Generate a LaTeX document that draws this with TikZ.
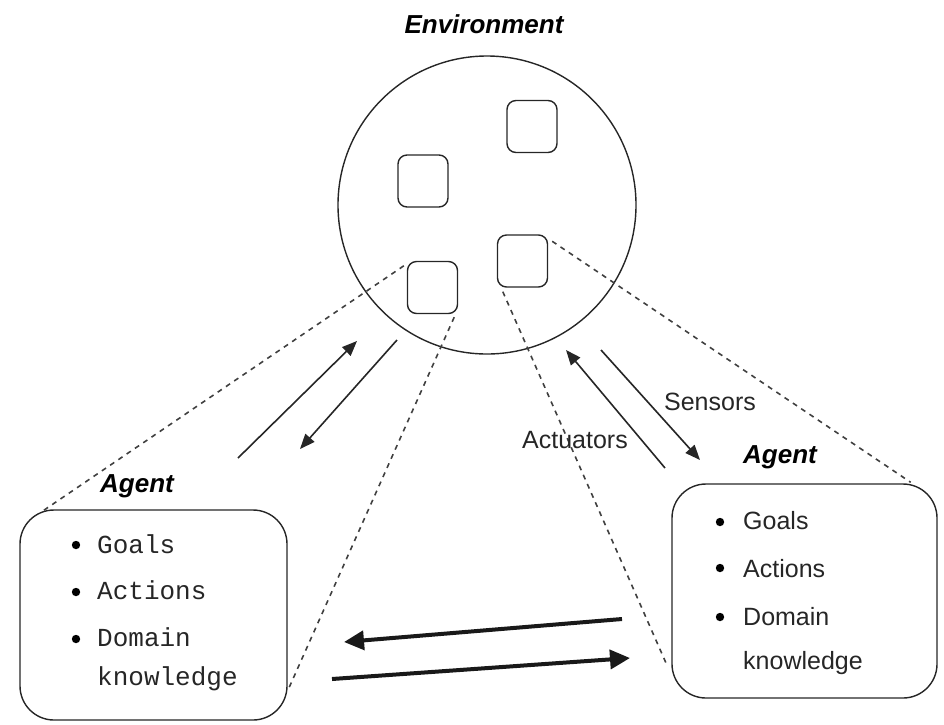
\documentclass[tikz,border=0pt]{standalone}
\usepackage{fontspec}
\setmainfont{Liberation Sans}
\setmonofont{Liberation Mono}
\usetikzlibrary{arrows.meta,calc}
\begin{document}
\begin{tikzpicture}[x=1pt,y=-1pt,
  ink/.style={draw=black!85, line width=1.4pt},
  thinarrow/.style={draw=black!85, line width=1.6pt, -{Triangle[length=15pt,width=12pt]}},
  thickarrow/.style={draw=black!90, line width=4pt, -{Triangle[length=20pt,width=19pt]}},
  dashline/.style={draw=black!75, line width=1.6pt, dash pattern=on 5pt off 5pt},
  sq/.style={ink, rounded corners=9pt, minimum width=50pt, minimum height=52pt, inner sep=0pt},
  agentbox/.style={ink, rounded corners=34pt, inner sep=0pt},
  title/.style={font=\fontsize{26}{30}\selectfont\bfseries\itshape},
  lbl/.style={font=\fontsize{25}{30}\selectfont, text=black!85},
  monoitem/.style={anchor=base west, inner sep=0pt, font=\fontsize{26}{30}\selectfont\ttfamily, text=black!85},
  sansitem/.style={anchor=base west, inner sep=0pt, font=\fontsize{25}{30}\selectfont, text=black!85},
  dot/.style={fill=black}
]
\useasboundingbox (0,0) rectangle (944,724);

% environment
\node[title] (envl) at (484,24) {Environment};
\node[ink, circle, minimum size=298pt, inner sep=0pt] (env) at (487,205) {};
\node[sq] (s1) at (532,126.5) {};
\node[sq] (s2) at (423,181) {};
\node[sq] (s3) at (522.5,261) {};
\node[sq] (s4) at (432.5,287.5) {};

% agent boxes
\node[agentbox, minimum width=267pt, minimum height=210pt] (lbox) at (153.5,615) {};
\node[agentbox, minimum width=265pt, minimum height=214pt] (rbox) at (804.5,591) {};
\node[title] (lagent) at (137,486) {Agent};
\node[title] (ragent) at (780,457) {Agent};

% left list
\fill[dot] (76,545) circle (4.2pt);
\fill[dot] (76,592) circle (4.2pt);
\fill[dot] (76,639) circle (4.2pt);
\node[monoitem] (l1) at (97,553) {Goals};
\node[monoitem] (l2) at (97,599.5) {Actions};
\node[monoitem] (l3) at (97,646) {Domain};
\node[monoitem] (l4) at (97,685) {knowledge};

% right list
\fill[dot] (720,522) circle (4.2pt);
\fill[dot] (720,568) circle (4.2pt);
\fill[dot] (720,617) circle (4.2pt);
\node[sansitem] (r1) at (743,529) {Goals};
\node[sansitem] (r2) at (743,577) {Actions};
\node[sansitem] (r3) at (743,625) {Domain};
\node[sansitem] (r4) at (743,669) {knowledge};

% dashed projection lines
\draw[dashline] ($(s4.north west)+(-3,5)$) -- ($(lbox.north west)+(23,2)$);
\draw[dashline] ($(s4.south east)+(-4,3)$) -- ($(lbox.south east)+(0,-30)$);
\draw[dashline] ($(s3.south west)+(6,4)$) -- ($(rbox.south west)+(-5,-35)$);
\draw[dashline] ($(s3.north east)+(4,7)$) -- ($(rbox.north east)+(-27,-1)$);

% left thin arrows
\coordinate (la1s) at (238,458);
\coordinate (la1e) at (357,341);
\coordinate (la2s) at (397,340);
\coordinate (la2e) at (300,449);
\draw[thinarrow] (la1s) -- (la1e);
\draw[thinarrow] (la2s) -- (la2e);

% right thin arrows
\coordinate (ra1s) at (665,468);
\coordinate (ra1e) at (566,350);
\coordinate (ra2s) at (601,350);
\coordinate (ra2e) at (700,460);
\draw[thinarrow] (ra1s) -- (ra1e);
\draw[thinarrow] (ra2s) -- (ra2e);
\node[lbl] (sens) at (710,402) {Sensors};
\node[lbl] (act) at (575,440) {Actuators};

% thick arrows between agents
\coordinate (ba1s) at (622,619);
\coordinate (ba1e) at (344,642);
\coordinate (ba2s) at (332,679);
\coordinate (ba2e) at (630,658);
\draw[thickarrow] (ba1s) -- (ba1e);
\draw[thickarrow] (ba2s) -- (ba2e);
\end{tikzpicture}
\end{document}
